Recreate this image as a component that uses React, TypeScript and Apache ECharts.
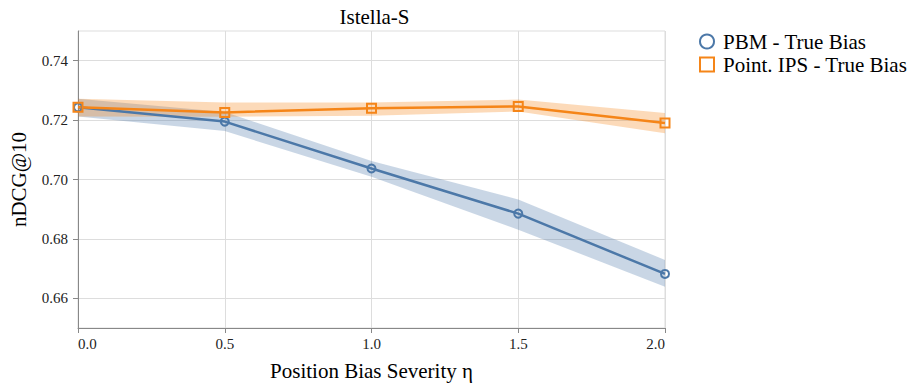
import React, { useEffect, useRef } from "react";
import * as echarts from "echarts";

const etaValues = [0, 0.5, 1.0, 1.5, 2.0];
const pbmMean = [0.7243, 0.7195, 0.7037, 0.6885, 0.6682];
const pbmLower = [0.7212, 0.7163, 0.7009, 0.6831, 0.6639];
const pbmUpper = [0.7272, 0.7227, 0.7062, 0.6933, 0.6729];
const ipsMean = [0.7243, 0.7226, 0.724, 0.7246, 0.719];
const ipsLower = [0.7212, 0.7211, 0.7215, 0.7229, 0.7156];
const ipsUpper = [0.7272, 0.7259, 0.7259, 0.7269, 0.7224];
const yTicks = [0.66, 0.68, 0.7, 0.72, 0.74];

const BLUE = "#4c78a8";
const ORANGE = "#f58518";
const FONT = "Liberation Serif";

function pairs(vals: number[]) {
  return etaValues.map((x, i) => [x, vals[i]]);
}

function band(lo: number[], up: number[], color: string) {
  return {
    type: "custom",
    silent: true,
    clip: true,
    data: etaValues.map((x, i) => [x, lo[i], up[i]]),
    encode: { x: 0, y: [1, 2] },
    renderItem: (params: any, api: any) => {
      if (params.dataIndex !== 0) return null;
      const upperPts = etaValues.map((x, i) => api.coord([x, up[i]]));
      const lowerPts = etaValues.map((x, i) => api.coord([x, lo[i]])).reverse();
      return {
        type: "polygon",
        shape: { points: upperPts.concat(lowerPts) },
        style: { fill: color },
      };
    },
  };
}

const txt = (size: number, color = "#000") => ({
  fontFamily: FONT,
  fontSize: size,
  fontWeight: "normal",
  fontStyle: "normal",
  color,
});

export default function App() {
  const ref = useRef<HTMLDivElement>(null);
  useEffect(() => {
    document.body.style.margin = "0";
    const chart = echarts.init(ref.current!, undefined, { renderer: "svg" });
    chart.setOption({
      animation: false,
      textStyle: txt(15),
      title: {
        text: "Istella-S",
        left: 369.5,
        textAlign: "center",
        top: 1,
        textStyle: txt(21),
      },
      legend: {
        orient: "vertical",
        left: 699,
        top: 31,
        padding: 0,
        itemWidth: 14,
        itemHeight: 14,
        itemGap: 2,
        textStyle: { ...txt(21), lineHeight: 21, padding: [0, 0, 0, 4] },
        data: [
          { name: "PBM - True Bias", icon: "circle", itemStyle: { color: "rgba(0,0,0,0)", borderColor: BLUE, borderWidth: 2 } },
          { name: "Point. IPS - True Bias", icon: "rect", itemStyle: { color: "rgba(0,0,0,0)", borderColor: ORANGE, borderWidth: 2 } },
        ],
      },
      grid: {
        left: 73,
        right: 244,
        top: 31,
        bottom: 59,
        show: true,
        borderColor: "#ddd",
        borderWidth: 1,
        backgroundColor: "rgba(0,0,0,0)",
      },
      xAxis: {
        type: "value",
        min: 0,
        max: 2,
        interval: 0.5,
        name: "Position Bias Severity η",
        nameLocation: "middle",
        nameGap: 32,
        nameTextStyle: txt(21),
        axisLine: { show: true, lineStyle: { color: "#888", width: 1 } },
        axisTick: { show: true, length: 5, lineStyle: { color: "#888" } },
        splitLine: { show: true, lineStyle: { color: "#ddd", width: 1 } },
        axisLabel: {
          ...txt(15, "#222"),
          margin: 8,
          alignMinLabel: "left",
          alignMaxLabel: "right",
          formatter: (v: number) => v.toFixed(1),
        },
      },
      yAxis: {
        type: "value",
        min: 0.65,
        max: 0.75,
        name: "nDCG@10",
        nameLocation: "middle",
        nameGap: 49,
        nameTextStyle: txt(21),
        axisLine: { show: true, lineStyle: { color: "#888", width: 1 } },
        axisTick: { show: true, length: 5, lineStyle: { color: "#888" }, customValues: yTicks },
        splitLine: { show: true, lineStyle: { color: "#ddd", width: 1 } },
        axisLabel: {
          ...txt(15, "#222"),
          margin: 10,
          customValues: yTicks,
          formatter: (v: number) => v.toFixed(2),
        },
      },
      series: [
        band(pbmLower, pbmUpper, "rgba(76,120,168,0.3)"),
        {
          name: "PBM - True Bias",
          type: "line",
          data: pairs(pbmMean),
          symbol: "circle",
          symbolSize: 8,
          showAllSymbol: true,
          lineStyle: { color: BLUE, width: 2.5 },
          itemStyle: { color: "rgba(0,0,0,0)", borderColor: BLUE, borderWidth: 2 },
        },
        band(ipsLower, ipsUpper, "rgba(245,133,24,0.3)"),
        {
          name: "Point. IPS - True Bias",
          type: "line",
          data: pairs(ipsMean),
          symbol: "rect",
          symbolSize: 9,
          showAllSymbol: true,
          lineStyle: { color: ORANGE, width: 2.5 },
          itemStyle: { color: "rgba(0,0,0,0)", borderColor: ORANGE, borderWidth: 2 },
        },
      ],
    });
    return () => chart.dispose();
  }, []);
  return <div ref={ref} style={{ width: 909, height: 387 }} />;
}
